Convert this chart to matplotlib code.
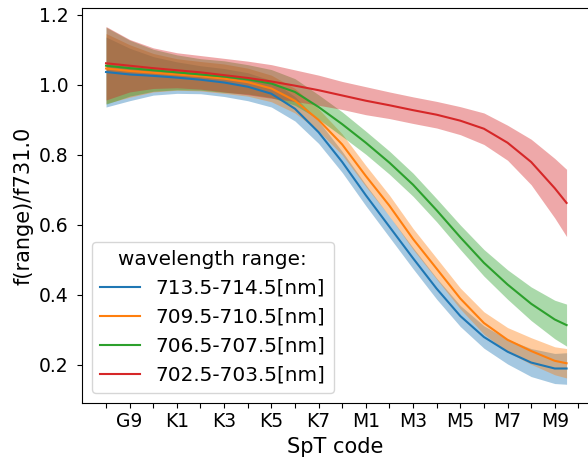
import numpy as np
import matplotlib.pyplot as plt

# SpT code on a numeric scale: G8=-1, G9=0, K0=1 ... K7=8, M0=9 ... M9=18
spt = [-1, 0, 1, 2, 3, 4, 5, 6, 7, 8, 9, 10, 11, 12, 13, 14, 15, 16, 17, 18, 18.5]
tick_pos = list(range(-1, 20))
tick_names = {0: 'G9', 2: 'K1', 4: 'K3', 6: 'K5', 8: 'K7',
              10: 'M1', 12: 'M3', 14: 'M5', 16: 'M7', 18: 'M9'}

labels = ['713.5-714.5[nm]', '709.5-710.5[nm]', '706.5-707.5[nm]', '702.5-703.5[nm]']

f_714 = [1.037, 1.030, 1.026, 1.021, 1.015, 1.007, 0.995, 0.975, 0.932, 0.865, 0.780,
         0.685, 0.595, 0.505, 0.418, 0.340, 0.280, 0.238, 0.207, 0.190, 0.190]
f_710 = [1.047, 1.040, 1.035, 1.030, 1.025, 1.018, 1.008, 0.990, 0.955, 0.900, 0.830,
         0.740, 0.655, 0.560, 0.475, 0.390, 0.320, 0.272, 0.240, 0.212, 0.205]
f_707 = [1.055, 1.048, 1.042, 1.036, 1.030, 1.024, 1.016, 1.004, 0.980, 0.937, 0.888,
         0.835, 0.778, 0.715, 0.642, 0.565, 0.492, 0.430, 0.375, 0.330, 0.314]
f_703 = [1.062, 1.055, 1.048, 1.042, 1.036, 1.028, 1.020, 1.010, 0.998, 0.985, 0.970,
         0.955, 0.942, 0.928, 0.915, 0.898, 0.875, 0.835, 0.780, 0.705, 0.663]

err_714 = [0.100, 0.075, 0.055, 0.045, 0.040, 0.040, 0.040, 0.038, 0.035, 0.032, 0.030,
           0.030, 0.030, 0.030, 0.030, 0.030, 0.032, 0.035, 0.040, 0.043, 0.045]
err_710 = [0.100, 0.075, 0.055, 0.045, 0.042, 0.042, 0.040, 0.038, 0.035, 0.032, 0.030,
           0.030, 0.030, 0.030, 0.030, 0.030, 0.032, 0.035, 0.038, 0.040, 0.042]
err_707 = [0.110, 0.080, 0.060, 0.050, 0.045, 0.045, 0.042, 0.040, 0.038, 0.035, 0.035,
           0.033, 0.033, 0.033, 0.033, 0.035, 0.038, 0.042, 0.048, 0.055, 0.060]
err_703 = [0.105, 0.075, 0.058, 0.050, 0.048, 0.048, 0.048, 0.048, 0.045, 0.043, 0.040,
           0.040, 0.038, 0.038, 0.038, 0.040, 0.045, 0.050, 0.065, 0.085, 0.096]

curves = [f_714, f_710, f_707, f_703]
errors = [err_714, err_710, err_707, err_703]
colors = ['tab:blue', 'tab:orange', 'tab:green', 'tab:red']

fig = plt.figure(figsize=(5.88, 4.61), dpi=100)
ax = fig.add_axes([81.7 / 588, 58.3 / 461, 507.3 / 588, 394.4 / 461])

for f, e, c, lab in zip(curves, errors, colors, labels):
    f = np.array(f)
    e = np.array(e)
    ax.fill_between(spt, f - e, f + e, color=c, alpha=0.4, linewidth=0)
    ax.plot(spt, f, color=c, label=lab)

fs = 15
tfs = 13.5
ax.set_xticks(tick_pos)
ax.set_xticklabels([tick_names.get(t, '') for t in tick_pos], fontsize=tfs)
ax.set_yticks([0.2, 0.4, 0.6, 0.8, 1.0, 1.2])
ax.set_yticklabels(['0.2', '0.4', '0.6', '0.8', '1.0', '1.2'], fontsize=tfs)
ax.tick_params(axis='y', pad=6)
ax.set_xlim(-2.03, 19.45)
ax.set_ylim(0.0923, 1.219)
ax.set_xlabel('SpT code', fontsize=fs)
ax.set_ylabel('f(range)/f731.0', fontsize=fs)
ax.legend(title='wavelength range:', loc='lower left', fontsize=14.4, title_fontsize=14.4)

fig.savefig('out.png', dpi=100)
